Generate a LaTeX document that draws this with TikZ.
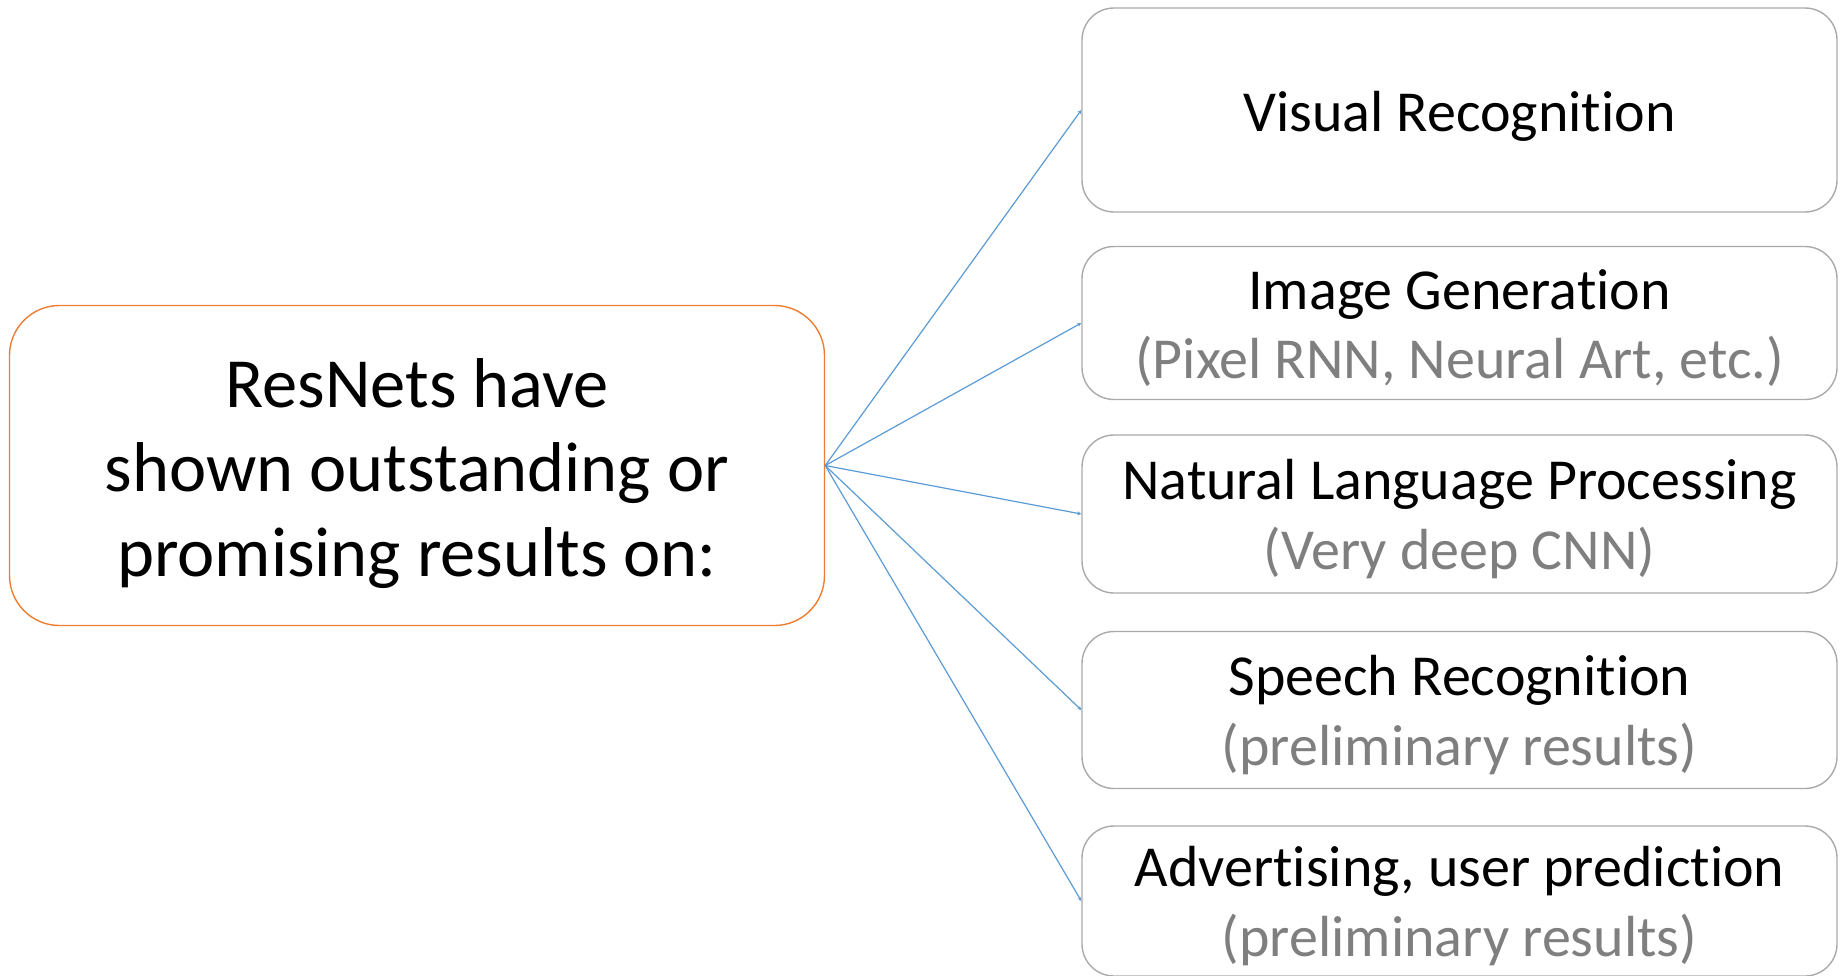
\documentclass[tikz,border=0pt]{standalone}
\usepackage{fontspec}
\setmainfont[Ligatures=NoCommon]{Carlito}
\usetikzlibrary{arrows.meta}
\definecolor{rootline}{RGB}{237,125,49}
\definecolor{leafline}{RGB}{170,170,170}
\definecolor{linkline}{RGB}{91,155,213}
\definecolor{subtext}{RGB}{127,127,127}
\tikzset{
  rootbox/.style={draw=rootline, line width=1.4pt, rounded corners=50pt,
    minimum width=815pt, minimum height=320pt, inner sep=0pt},
  roottext/.style={align=center, inner sep=0pt,
    font=\fontsize{70.5}{84.5}\selectfont},
  leafbox/.style={draw=leafline, line width=1.4pt, rounded corners=32pt,
    minimum width=755pt, inner sep=0pt},
  leaftext/.style={align=center, inner sep=0pt,
    font=\fontsize{58}{69.5}\selectfont},
  link/.style={draw=linkline, line width=1.2pt,
    -{Stealth[length=4pt,width=4pt]}}
}
\begin{document}
\begin{tikzpicture}[x=1pt,y=-1pt]
  \useasboundingbox (0,0) rectangle (1840,975);
  \clip (0,0) rectangle (1840,975);
  % central topic
  \node[rootbox] (root) at (417,465.5) {};
  \node[roottext] (roottx) at ([yshift=-8pt]root.center)
    {ResNets have\\shown outstanding or\\promising results on:};
  % application areas
  \node[leafbox, minimum height=204pt] (vis) at (1459.5,110) {};
  \node[leafbox, minimum height=153pt] (gen) at (1459.5,323) {};
  \node[leafbox, minimum height=158pt] (nlp) at (1459.5,514) {};
  \node[leafbox, minimum height=157pt] (sp)  at (1459.5,710) {};
  \node[leafbox, minimum height=150pt] (ad)  at (1459.5,901) {};
  \node[leaftext] (vistx) at ([yshift=-6pt]vis.center)
    {Visual Recognition};
  \node[leaftext] (gentx) at ([yshift=-5pt]gen.center)
    {Image Generation\\{\color{subtext}(Pixel RNN, Neural Art, etc.)}};
  \node[leaftext] (nlptx) at ([yshift=-5pt]nlp.center)
    {Natural Language Processing\\{\color{subtext}(Very deep CNN)}};
  \node[leaftext] (sptx) at ([yshift=-5pt]sp.center)
    {Speech Recognition\\{\color{subtext}(preliminary results)}};
  \node[leaftext] (adtx) at ([yshift=-5pt]ad.center)
    {Advertising, user prediction\\{\color{subtext}(preliminary results)}};
  % connectors fanning out from the centre
  \foreach \t in {vis,gen,nlp,sp,ad}
    \draw[link] (root.east) -- (\t.west);
\end{tikzpicture}
\end{document}
